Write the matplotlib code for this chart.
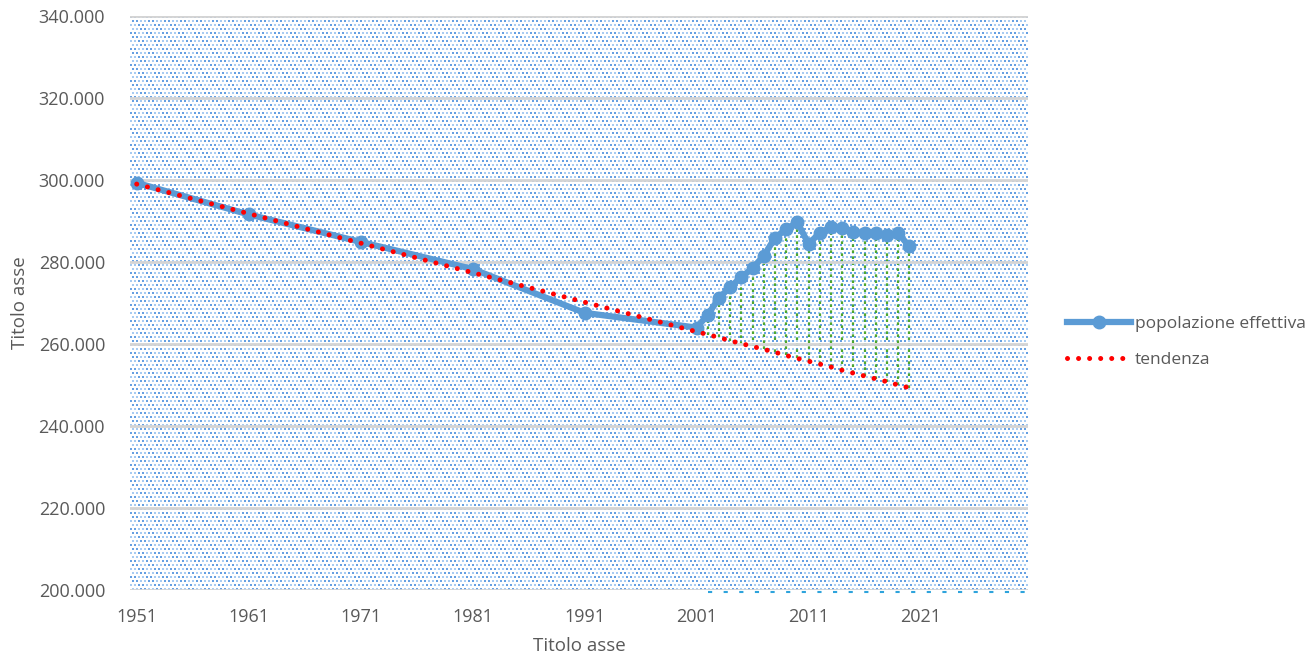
import numpy as np
import matplotlib
matplotlib.use('Agg')
import matplotlib.pyplot as plt
from matplotlib.ticker import FuncFormatter, MultipleLocator
from matplotlib.lines import Line2D
import matplotlib.transforms as mtransforms

years = [1951, 1961, 1971, 1981, 1991, 2001, 2002, 2003, 2004, 2005, 2006, 2007,
         2008, 2009, 2010, 2011, 2012, 2013, 2014, 2015, 2016, 2017, 2018, 2019, 2020]
popolazione = [299300, 291600, 284900, 278300, 267600, 264000, 267100, 271200, 273900,
               276300, 278500, 281500, 285900, 288000, 289700, 284400, 287100, 288500,
               288300, 287300, 287100, 287100, 286600, 287000, 283800]
tendenza = [299000, 291800, 284600, 277400, 270200, 263000, 262300, 261600, 260800,
            260100, 259400, 258700, 258000, 257200, 256500, 255800, 255100, 254400,
            253600, 252900, 252200, 251500, 250800, 250000, 249300]

grey = '#595959'
plt.rcParams['font.family'] = ['Open Sans', 'DejaVu Sans']

fig = plt.figure(figsize=(13.14, 6.66), dpi=100)
ax = fig.add_axes([130 / 1314, 1 - 590 / 666, 898 / 1314, 574 / 666])

# dotted background pattern (Excel pattern fill): staggered 2x2 px dots
h, w = 574, 898
img = np.ones((h, w, 3))
yy, xx = np.mgrid[0:h, 0:w]
dots = (((yy % 8) < 2) & ((xx % 4) < 2)) | (((yy % 8) >= 4) & ((yy % 8) < 6) & ((xx % 4) >= 2))
strong = ((yy // 8) + (xx // 8)) % 2 == 0
img[dots & strong] = [0.40, 0.63, 0.89]
img[dots & ~strong] = [0.66, 0.80, 0.95]
ax.imshow(img, extent=[0, 1, 0, 1], transform=ax.transAxes, aspect='auto',
          interpolation='nearest', zorder=0)

ax.set_xlim(1950.4, 2030.6)
ax.set_ylim(200000, 340000)
ax.yaxis.set_major_locator(MultipleLocator(20000))
ax.set_xticks(range(1951, 2022, 10))
ax.yaxis.set_major_formatter(FuncFormatter(lambda v, p: f'{int(v):,}'.replace(',', '.')))
ax.grid(axis='y', color='#d4d4d4', linewidth=2, zorder=1)
ax.set_axisbelow(False)
for s in ax.spines.values():
    s.set_visible(False)
ax.tick_params(length=0, labelsize=13, labelcolor=grey)
ax.tick_params(axis='y', pad=18)
ax.tick_params(axis='x', pad=13)

# drop lines between series
ax.vlines(years, tendenza, popolazione, colors='#4ea72e', linestyles=(0, (1.2, 1.5)),
          linewidth=1.6, zorder=2)
ax.plot(years, popolazione, color='#5b9bd5', linewidth=4.5, marker='o', markersize=9,
        zorder=3, label='popolazione effettiva')
ax.plot(years, tendenza, color='#ff0000', linewidth=3.6, linestyle=(0, (0.01, 2.2)),
        dash_capstyle='round', zorder=4, label='tendenza')

# light dashed line under the axis
trans = mtransforms.blended_transform_factory(ax.transData, ax.transAxes)
ax.plot([2002, 2030.4], [-0.004, -0.004], transform=trans, color='#2ea3dc',
        linewidth=1.5, linestyle=(0, (2, 5.5)), clip_on=False, zorder=1)

ax.set_xlabel('Titolo asse', fontsize=13.5, color=grey, labelpad=8)
ax.set_ylabel('Titolo asse', fontsize=13.5, color=grey, labelpad=7)

handles = [Line2D([0], [0], color='#5b9bd5', linewidth=4.5, marker='o', markersize=9),
           Line2D([0], [0], color='#ff0000', linewidth=3.6, linestyle=(0, (0.01, 2.2)),
                  dash_capstyle='round')]
fig.legend(handles, ['popolazione effettiva', 'tendenza'], loc='center left',
           bbox_to_anchor=(1051 / 1314, 1 - 342 / 666), frameon=False, fontsize=12.5,
           labelcolor=grey, handlelength=3.7, handletextpad=0.25, labelspacing=1.1)

fig.savefig('out.png', dpi=100)
